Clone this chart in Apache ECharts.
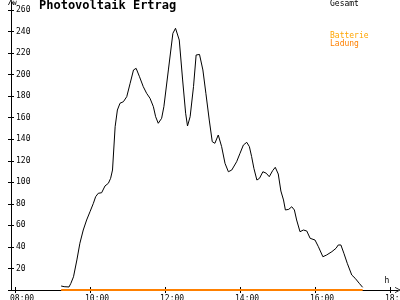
<!DOCTYPE html>
<html>
<head>
<meta charset="utf-8">
<script src="https://cdn.jsdelivr.net/npm/echarts@6/dist/echarts.min.js"></script>
<style>html,body{margin:0;padding:0;background:#fff}#c{width:400px;height:300px}</style>
</head>
<body>
<div id="c"></div>
<script>
// time in decimal hours
const times = [9.23, 9.31, 9.44, 9.49, 9.56, 9.65, 9.73, 9.82, 9.91, 10.0, 10.09, 10.15, 10.22, 10.31, 10.4, 10.49, 10.55, 10.6, 10.67, 10.73, 10.8, 10.89, 10.98, 11.07, 11.16, 11.23, 11.32, 11.42, 11.51, 11.6, 11.69, 11.75, 11.82, 11.91, 11.97, 12.09, 12.21, 12.28, 12.33, 12.38, 12.47, 12.55, 12.6, 12.67, 12.76, 12.83, 12.86, 12.92, 13.01, 13.09, 13.18, 13.26, 13.33, 13.42, 13.51, 13.6, 13.69, 13.78, 13.91, 14.0, 14.09, 14.18, 14.25, 14.31, 14.37, 14.45, 14.52, 14.61, 14.7, 14.78, 14.87, 14.94, 15.02, 15.09, 15.16, 15.21, 15.3, 15.38, 15.45, 15.51, 15.6, 15.69, 15.78, 15.87, 16.0, 16.09, 16.21, 16.31, 16.45, 16.56, 16.62, 16.69, 16.77, 16.86, 16.98, 17.07, 17.18, 17.27];
const gesamt = [3.7, 3.1, 2.8, 6.2, 12.3, 27.9, 43.4, 55.7, 65, 72.7, 80.5, 86.6, 89.8, 90.3, 96.6, 99.1, 103.7, 111.4, 151.6, 167.1, 173.4, 174.8, 179.5, 191.9, 204.3, 205.8, 198, 188.8, 182.6, 178, 170.2, 160.9, 154.8, 159.4, 170.2, 204.3, 238.3, 243, 243.9, 232.1, 195, 164.1, 152.3, 160.9, 188.8, 218.2, 219.1, 218.7, 204.3, 182.6, 157.8, 137.7, 136.2, 143.9, 133.1, 117.6, 109.8, 111.4, 119.1, 126.9, 134.6, 137.1, 133.1, 123.8, 113, 102.1, 103.7, 109.8, 108.4, 105.2, 110.8, 113.9, 107.7, 91.9, 83.6, 74.3, 74.9, 77.3, 74.3, 65, 54.1, 55.7, 54.8, 48, 46.4, 40.2, 30.9, 32.5, 35.6, 38.7, 41.8, 41.8, 34.1, 24.8, 13.9, 10.9, 6.2, 2.5];
const ladungTimes = [9.23, 17.27];
const ladung = [0, 0];
const xTicks = [8, 10, 12, 14, 16, 18];
const yTicks = [0, 20, 40, 60, 80, 100, 120, 140, 160, 180, 200, 220, 240, 260];

const mono = 'DejaVu Sans Mono';
const arrow = 'path://M0,7 L3.5,0 L7,7 L6,7 L3.5,2 L1,7 Z';
const chart = echarts.init(document.getElementById('c'), null, {renderer: 'canvas'});
const xBase = {
  type: 'value', min: 7.893, max: 18.213, position: 'bottom',
  splitLine: {show: false}
};
const yBase = {
  type: 'value', min: 0, max: 267.4, position: 'left',
  splitLine: {show: false}
};
chart.setOption({
  animation: false,
  backgroundColor: '#fff',
  title: {
    text: 'Photovoltaik Ertrag', left: 39, top: 0, padding: 0,
    textStyle: {fontFamily: mono, fontWeight: 'bold', fontSize: 12, color: '#000'}
  },
  legend: [
    {data: ['Gesamt'], left: 325, top: 0, padding: 0, icon: 'none', itemWidth: 0, itemHeight: 6,
     textStyle: {fontFamily: mono, fontSize: 8, color: '#000'}, selectedMode: false},
    {data: ['Batterie Ladung'], left: 325, top: 32, padding: 0, icon: 'none', itemWidth: 0, itemHeight: 6,
     selectedMode: false,
     formatter: () => '{a|Batterie}\n{b|Ladung}',
     textStyle: {fontFamily: mono, fontSize: 8, lineHeight: 8,
       rich: {a: {color: '#ffa500', fontFamily: mono, fontSize: 8, lineHeight: 8},
              b: {color: '#ff8000', fontFamily: mono, fontSize: 8, lineHeight: 8}}}}
  ],
  grid: {left: 11, right: 2, top: 2, bottom: 10, containLabel: false, outerBoundsMode: 'none'},
  xAxis: [
    Object.assign({}, xBase, {
      name: 'h', nameLocation: 'end', nameGap: -11,
      nameTextStyle: {fontFamily: mono, fontSize: 8, color: '#000', align: 'center', verticalAlign: 'bottom', padding: [0, 0, 5, 0]},
      axisLine: {show: true, lineStyle: {color: '#000', width: 1}, symbol: ['none', arrow], symbolSize: [6, 6]},
      axisTick: {show: true, inside: true, length: 3, lineStyle: {color: '#000'}, customValues: xTicks},
      axisLabel: {show: true, customValues: xTicks, margin: 5, fontFamily: mono, fontSize: 8, color: '#000',
        align: 'left', padding: [0, 0, 0, -5], hideOverlap: false,
        formatter: v => (v < 10 ? '0' : '') + v + ':00'}
    }),
    Object.assign({}, xBase, {
      axisLine: {show: false},
      axisTick: {show: true, inside: false, length: 3, lineStyle: {color: '#000'}, customValues: xTicks},
      axisLabel: {show: false}
    })
  ],
  yAxis: [
    Object.assign({}, yBase, {
      name: 'W', nameLocation: 'end', nameGap: -1,
      nameTextStyle: {fontFamily: mono, fontSize: 6, color: '#000', align: 'left', verticalAlign: 'top', padding: [0, 0, 0, 2]},
      axisLine: {show: true, lineStyle: {color: '#000', width: 1}, symbol: ['none', arrow], symbolSize: [6, 6]},
      axisTick: {show: true, inside: true, length: 3, lineStyle: {color: '#000'}, customValues: yTicks},
      axisLabel: {show: true, inside: true, margin: 5, customValues: yTicks, fontFamily: mono, fontSize: 8, color: '#000',
        formatter: v => (v === 0 ? '' : String(v))}
    }),
    Object.assign({}, yBase, {
      axisLine: {show: false},
      axisTick: {show: true, inside: false, length: 3, lineStyle: {color: '#000'}, customValues: yTicks},
      axisLabel: {show: false}
    })
  ],
  series: [
    {
      name: 'Batterie Ladung', type: 'line', xAxisIndex: 0, yAxisIndex: 0,
      data: ladungTimes.map((t, i) => [t, ladung[i]]),
      showSymbol: false, lineStyle: {color: '#ff8000', width: 2}, itemStyle: {color: '#ff8000'}, z: 3, clip: false
    },
    {
      name: 'Gesamt', type: 'line', xAxisIndex: 0, yAxisIndex: 0,
      data: times.map((t, i) => [t, gesamt[i]]),
      showSymbol: false, lineStyle: {color: '#000', width: 1}, itemStyle: {color: '#000'}, z: 4
    }
  ]
});
</script>
</body>
</html>
